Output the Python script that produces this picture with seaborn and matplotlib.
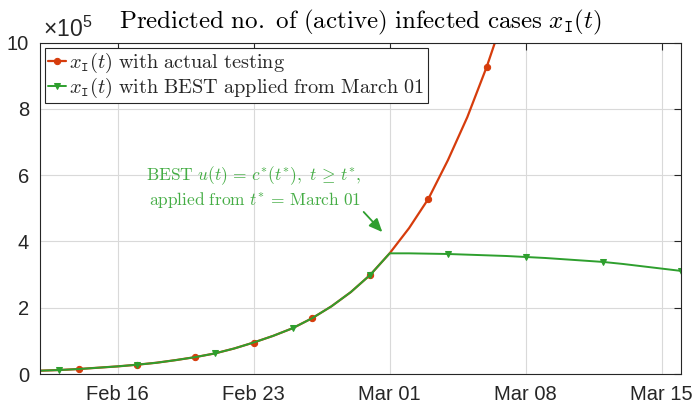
import pandas as pd
import matplotlib
matplotlib.use('Agg')
import matplotlib.pyplot as plt
import matplotlib.dates as mdates
import seaborn as sns

# Dados (casos ativos, em unidades de 1e5)
datas_real = pd.date_range('2020-02-12', '2020-03-07', freq='D')
casos_real = [0.10, 0.12, 0.15, 0.19, 0.23, 0.28, 0.34, 0.42, 0.51, 0.62,
              0.77, 0.95, 1.15, 1.38, 1.68, 2.04, 2.47, 2.99, 3.64, 4.40,
              5.29, 6.45, 7.75, 9.27, 11.0]

datas_best = pd.date_range('2020-02-12', '2020-03-16', freq='D')
casos_best = [0.10, 0.12, 0.15, 0.19, 0.23, 0.28, 0.34, 0.42, 0.51, 0.62,
              0.77, 0.95, 1.15, 1.38, 1.68, 2.04, 2.47, 2.99, 3.64, 3.64,
              3.63, 3.62, 3.60, 3.58, 3.56, 3.53, 3.50, 3.46, 3.42, 3.38,
              3.32, 3.25, 3.18, 3.11]

ticks_x = ['2020-02-16', '2020-02-23', '2020-03-01', '2020-03-08', '2020-03-15']
ticks_y = [0, 2, 4, 6, 8, 10]

cor_real = '#D63C0C'
cor_best = '#2E9F2E'
cor_texto = '#45AD45'
cinza = '#262626'

sns.set_style('white')
plt.rcParams['font.family'] = ['Liberation Sans', 'DejaVu Sans']
plt.rcParams['mathtext.fontset'] = 'cm'

fig = plt.figure(figsize=(6.96, 4.07), dpi=100)
ax = fig.add_axes([40 / 696, 1 - 374 / 407, 641 / 696, 331.5 / 407])

sns.lineplot(x=datas_real, y=casos_real, ax=ax, color=cor_real, lw=1.6,
             marker='o', ms=4.5, markevery=list(range(2, len(casos_real), 3)),
             mec=cor_real, label=r'$x_{\mathtt{I}}(t)\ \mathrm{with\ actual\ testing}$')
sns.lineplot(x=datas_best, y=casos_best, ax=ax, color=cor_best, lw=1.4,
             marker='v', ms=5, markevery=list(range(1, len(casos_best), 4)),
             mec=cor_best, label=r'$x_{\mathtt{I}}(t)\ \mathrm{with\ BEST\ applied\ from\ March\ 01}$')

ax.set_xlim(pd.Timestamp('2020-02-12'), pd.Timestamp('2020-03-16'))
ax.set_ylim(0, 10)
ax.set_xticks([pd.Timestamp(t) for t in ticks_x])
ax.xaxis.set_major_formatter(mdates.DateFormatter('%b %d'))
ax.set_yticks(ticks_y)
ax.set_xlabel('')
ax.set_ylabel('')

ax.grid(True, color='#D9D9D9', lw=0.8)
ax.set_axisbelow(True)
for s in ax.spines.values():
    s.set_color(cinza)
    s.set_linewidth(0.8)
ax.tick_params(direction='in', length=5, width=0.8, color=cinza,
               top=True, right=True, labelsize=14.5, labelcolor=cinza, pad=8)

ax.set_title(r'$\mathrm{Predicted\ no.\ of\ (active)\ infected\ cases}\ x_{\mathtt{I}}(t)$',
             fontsize=18, pad=10, color='black')
fig.text(43 / 696, 1 - 37 / 407, r'$\mathdefault{×10^{5}}$', fontsize=16.5,
         color=cinza, ha='left', va='baseline')

leg = ax.legend(loc='upper left', fontsize=14.6, frameon=True, fancybox=False,
                edgecolor=cinza, framealpha=1, borderaxespad=0.25,
                handlelength=0.9, handletextpad=0.15, borderpad=0.15,
                labelspacing=0.05)
leg.get_frame().set_linewidth(0.8)

# Anotação da política BEST
ax.annotate('', xy=(0.537, 0.422), xytext=(0.502, 0.495), xycoords='axes fraction',
            arrowprops=dict(arrowstyle='-|>,head_width=0.35,head_length=0.8',
                            color=cor_best, lw=1.3))
ax.text(0.501, 0.563,
        r'$\mathrm{BEST}\ u(t)\,=\,c^{*}(t^{*}),\ t\,\geq\,t^{*},$' + '\n' +
        r'$\mathrm{applied\ from}\ t^{*}\,=\,\mathrm{March\ 01}$',
        transform=ax.transAxes, ha='right', va='center', multialignment='right',
        fontsize=12.5, color=cor_texto, linespacing=1.2)

plt.savefig('out.png', dpi=100)
